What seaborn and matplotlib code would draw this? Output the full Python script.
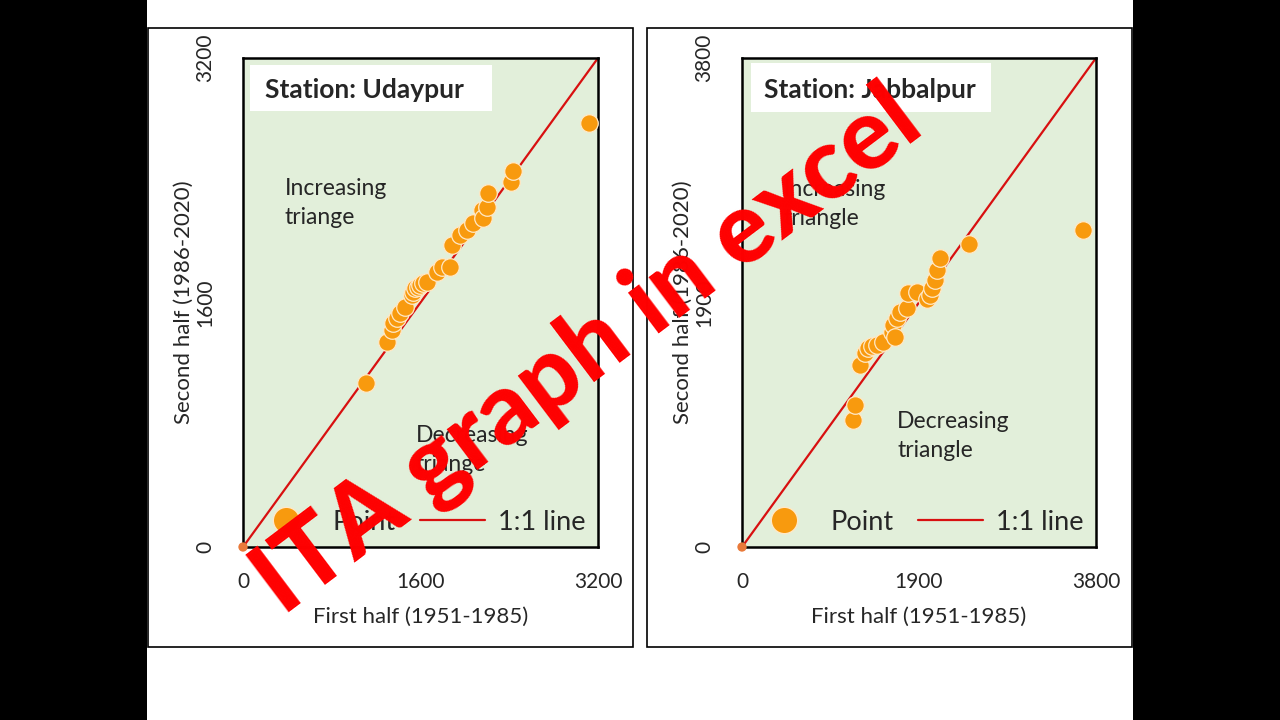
import matplotlib
matplotlib.use("Agg")
import matplotlib.pyplot as plt
from matplotlib.patches import Rectangle
from matplotlib.lines import Line2D
import seaborn as sns
import pandas as pd

# ---------------- data ----------------
ud_first = [1109, 1296, 1341, 1356, 1386, 1416, 1461, 1520, 1536, 1551, 1580, 1596, 1620,
            1656, 1747, 1792, 1867, 1882, 1957, 2017, 2077, 2152, 2161, 2197, 2212,
            2413, 2437, 3120]
ud_second = [1075, 1344, 1420, 1464, 1497, 1529, 1573, 1650, 1671, 1693, 1700, 1715, 1730,
             1736, 1802, 1834, 1834, 1976, 2042, 2075, 2118, 2205, 2151, 2227, 2315,
             2391, 2463, 2777]

jb_first = [1188, 1213, 1267, 1321, 1356, 1400, 1446, 1517, 1607, 1625, 1643, 1661, 1696,
            1768, 1786, 1875, 1990, 2018, 2036, 2072, 2090, 2125, 2440, 3664]
jb_second = [987, 1103, 1414, 1505, 1544, 1560, 1570, 1595, 1673, 1725, 1634, 1777, 1829,
             1855, 1971, 1984, 1930, 1958, 2010, 2075, 2152, 2243, 2352, 2463]

panels = [
    dict(station="Station: Udaypur", first=ud_first, second=ud_second, vmax=3200,
         ticks=[0, 1600, 3200], inc="Increasing\ntriange", dec="Decreasing\ntriange",
         inc_pos=(0.118, 0.7035), dec_pos=(0.487, 0.198),
         box=(0.0197, 0.8916, 0.701, 0.9857), title_pos=(0.062, 0.934)),
    dict(station="Station: Jabbalpur", first=jb_first, second=jb_second, vmax=3800,
         ticks=[0, 1900, 3800], inc="Increasing\ntriangle", dec="Decreasing\ntriangle",
         inc_pos=(0.1186, 0.701), dec_pos=(0.438, 0.227),
         box=(0.0254, 0.8896, 0.703, 0.9898), title_pos=(0.0621, 0.934)),
]
x_label = "First half (1951-1985)"
y_label = "Second half (1986-2020)"
overlay = "ITA graph in excel"

# ---------------- style ----------------
sns.set_theme(style="white")
plt.rcParams['font.family'] = ['Lato', 'DejaVu Sans']

ORANGE = "#F89A0E"
RED = "#D81010"
BG = "#E2EFDA"

W, H = 1280, 720
fig = plt.figure(figsize=(12.8, 7.2), dpi=100)
fig.patch.set_facecolor("white")

def fx(px):
    return px / W

def fy(py):
    return 1 - py / H

# black side bands
fig.patches.append(Rectangle((0, 0), fx(147), 1, transform=fig.transFigure,
                             facecolor="black", edgecolor="none", zorder=-2))
fig.patches.append(Rectangle((fx(1133), 0), 1 - fx(1133), 1, transform=fig.transFigure,
                             facecolor="black", edgecolor="none", zorder=-2))

panel_boxes = [(148, 28, 633, 647), (647, 28, 1132, 647)]
axes_boxes = [(243, 58, 598, 547), (742, 58, 1096, 547)]

for p, pb, ab in zip(panels, panel_boxes, axes_boxes):
    x0, y0, x1, y1 = pb
    fig.patches.append(Rectangle((fx(x0), fy(y1)), fx(x1 - x0), (y1 - y0) / H,
                                 transform=fig.transFigure, facecolor="white",
                                 edgecolor="black", linewidth=1.2, zorder=-1))
    a0, b0, a1, b1 = ab
    ax = fig.add_axes([fx(a0), fy(b1), fx(a1 - a0), (b1 - b0) / H])
    ax.set_facecolor(BG)
    vmax = p["vmax"]

    df = pd.DataFrame({"first": p["first"], "second": p["second"]})
    diag = pd.DataFrame({"x": [0, vmax], "y": [0, vmax]})

    sns.lineplot(data=diag, x="x", y="y", ax=ax, color=RED, linewidth=1.6, zorder=2)
    sns.scatterplot(data=df, x="first", y="second", ax=ax, color=ORANGE, s=160,
                    edgecolor="#FFE9C8", linewidth=0.9, zorder=3, clip_on=False)
    origin = pd.DataFrame({"x": [0], "y": [0]})
    sns.scatterplot(data=origin, x="x", y="y", ax=ax, color="#E97A3A", s=45,
                    edgecolor="none", zorder=4, clip_on=False)

    ax.set_xlim(0, vmax)
    ax.set_ylim(0, vmax)
    ax.set_xticks(p["ticks"])
    ax.set_yticks(p["ticks"])
    ax.set_xticklabels([str(t) for t in p["ticks"]], fontsize=15)
    ax.set_yticklabels([str(t) for t in p["ticks"]], fontsize=15, rotation=90, va="center")
    ax.tick_params(length=0, pad=20)
    ax.tick_params(axis="x", pad=18)
    ax.set_xlabel(x_label, fontsize=16, labelpad=11)
    ax.set_ylabel(y_label, fontsize=16, labelpad=1)
    for s in ax.spines.values():
        s.set_color("black")
        s.set_linewidth(1.8)
        s.set_visible(True)

    bx0, by0, bx1, by1 = p["box"]
    ax.add_patch(Rectangle((bx0, by0), bx1 - bx0, by1 - by0, transform=ax.transAxes,
                           facecolor="white", edgecolor="none", zorder=5))
    ax.text(p["title_pos"][0], p["title_pos"][1], p["station"], transform=ax.transAxes,
            fontsize=19, fontweight="bold", va="center", ha="left", zorder=6)
    ax.text(p["inc_pos"][0], p["inc_pos"][1], p["inc"], transform=ax.transAxes,
            fontsize=16.5, va="center", ha="left", linespacing=1.45)
    ax.text(p["dec_pos"][0], p["dec_pos"][1], p["dec"], transform=ax.transAxes,
            fontsize=16.5, va="center", ha="left", linespacing=1.45)

    handles = [Line2D([], [], marker="o", linestyle="none", color=ORANGE,
                      markersize=19, markeredgecolor="#FFE9C8"),
               Line2D([], [], color=RED, linewidth=1.6)]
    ax.legend(handles, ["Point", "1:1 line"], loc="lower right", ncol=2, frameon=False,
              fontsize=19.5, handlelength=2.4, columnspacing=0.9, handletextpad=0.5,
              borderaxespad=0.0, borderpad=0.45)
    ax.grid(False)

fig.text(fx(588), fy(352), overlay, rotation=37, rotation_mode="anchor",
         ha="center", va="center", color="#FF0000", fontsize=72, fontweight="black",
         zorder=10)

fig.savefig("out.png", dpi=100)
